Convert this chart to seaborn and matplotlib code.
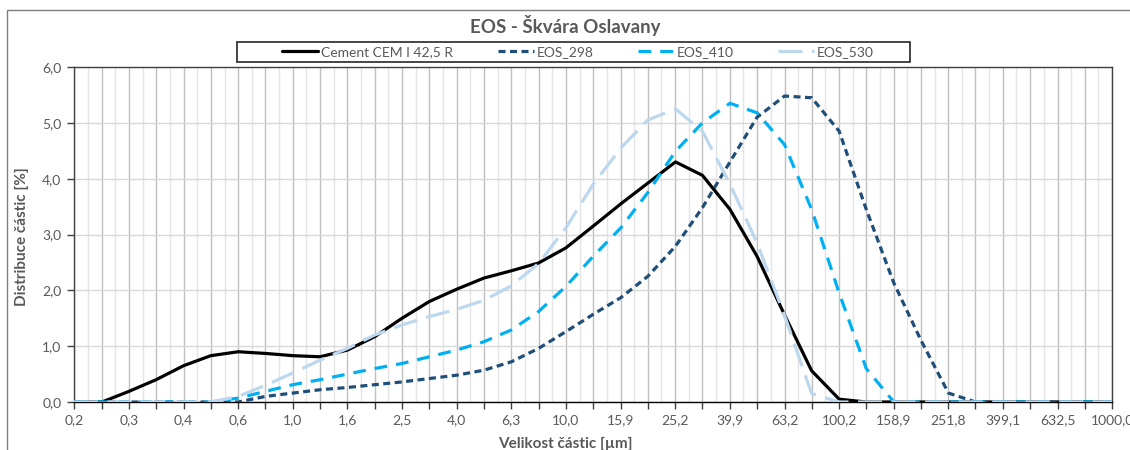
import numpy as np
import pandas as pd
import matplotlib.pyplot as plt
import seaborn as sns
from matplotlib.lines import Line2D
from matplotlib.patches import Rectangle

# velikost castic [um] - tridy (pulkroky na log ose)
sizes = [0.158, 0.200, 0.251, 0.316, 0.398, 0.501, 0.631, 0.794, 1.000, 1.259,
         1.585, 1.995, 2.512, 3.162, 3.981, 5.012, 6.310, 7.943, 10.00, 12.59,
         15.90, 19.95, 25.20, 31.62, 39.90, 50.12, 63.20, 79.43, 100.2, 125.9,
         158.9, 199.5, 251.8, 316.2, 399.1, 501.2, 632.5, 794.3, 1000.0]

cement = [0, 0, 0.19, 0.40, 0.65, 0.83, 0.90, 0.87, 0.83, 0.81,
          0.93, 1.17, 1.50, 1.80, 2.02, 2.22, 2.35, 2.49, 2.76, 3.15,
          3.55, 3.92, 4.30, 4.06, 3.45, 2.61, 1.56, 0.56, 0.05, 0,
          0, 0, 0, 0, 0, 0, 0, 0, 0]
eos_298 = [0, 0, 0, 0, 0, 0, 0, 0.10, 0.16, 0.22,
           0.26, 0.31, 0.36, 0.42, 0.48, 0.57, 0.72, 0.96, 1.26, 1.57,
           1.87, 2.25, 2.79, 3.48, 4.30, 5.10, 5.48, 5.45, 4.85, 3.45,
           2.13, 1.11, 0.16, 0, 0, 0, 0, 0, 0]
eos_410 = [0, 0, 0, 0, 0, 0, 0.07, 0.19, 0.31, 0.40,
           0.50, 0.60, 0.69, 0.81, 0.93, 1.08, 1.29, 1.62, 2.07, 2.61,
           3.12, 3.75, 4.49, 5.00, 5.35, 5.18, 4.61, 3.45, 1.95, 0.60,
           0, 0, 0, 0, 0, 0, 0, 0, 0]
eos_530 = [0, 0, 0, 0, 0, 0, 0.10, 0.30, 0.52, 0.75,
           0.96, 1.20, 1.38, 1.53, 1.66, 1.82, 2.08, 2.48, 3.12, 3.90,
           4.55, 5.05, 5.25, 4.85, 3.90, 2.85, 1.55, 0.15, 0, 0,
           0, 0, 0, 0, 0, 0, 0, 0, 0]

series_names = ['Cement CEM I 42,5 R', 'EOS_298', 'EOS_410', 'EOS_530']
colors = ['#000000', '#1F4E79', '#00B0F0', '#BDD7EE']

tick_labels = ['0,2', '0,3', '0,4', '0,6', '1,0', '1,6', '2,5', '4,0', '6,3', '10,0',
               '15,9', '25,2', '39,9', '63,2', '100,2', '158,9', '251,8', '399,1',
               '632,5', '1000,0']

df = pd.concat([
    pd.DataFrame({'size': sizes, 'value': vals, 'serie': name})
    for name, vals in zip(series_names, [cement, eos_298, eos_410, eos_530])
])

sns.set_theme(style='white')
plt.rcParams['font.family'] = ['Lato', 'DejaVu Sans']
grey = '#595959'

fig = plt.figure(figsize=(11.3, 4.5), dpi=100)
ax = fig.add_axes([74 / 1130, 1 - 402 / 450, (1112 - 74) / 1130, (402 - 67) / 450])

dashes = {
    'Cement CEM I 42,5 R': '',
    'EOS_298': (2.2, 1.4),
    'EOS_410': (4.0, 2.8),
    'EOS_530': (7.5, 3.0),
}
sns.lineplot(data=df, x='size', y='value', hue='serie', style='serie',
             palette=dict(zip(series_names, colors)), dashes=dashes,
             linewidth=2.3, legend=False, ax=ax, zorder=3)

ax.set_xscale('log')
ax.set_xlim(sizes[0], sizes[-1])
ax.set_ylim(0, 6)

# osa x - hlavni mrizka po pulkrocich, popisky po celych krocich
labels_full = []
for i in range(len(sizes)):
    labels_full.append(tick_labels[i // 2] if i % 2 == 0 else '')
ax.set_xticks(sizes)
ax.set_xticklabels(labels_full)
ax.set_xticks(np.logspace(-0.75, 2.95, 38), minor=True)
ax.xaxis.set_minor_formatter(plt.NullFormatter())

ax.set_yticks(range(7))
ax.set_yticklabels([f'{v},0' for v in range(7)])

ax.grid(True, which='major', axis='x', color='#BFBFBF', lw=1)
ax.grid(True, which='minor', axis='x', color='#E4E4E4', lw=1)
ax.grid(True, which='major', axis='y', color='#D9D9D9', lw=1)
ax.set_axisbelow(True)

ax.tick_params(axis='x', which='major', bottom=True, length=5, width=1,
               color='#404040', labelsize=10, labelcolor=grey, pad=4)
ax.tick_params(axis='x', which='minor', bottom=False, length=0)
ax.tick_params(axis='y', left=True, length=5, width=1, color='#404040',
               labelsize=10, labelcolor=grey, pad=4)

for s in ax.spines.values():
    s.set_color('#404040')
    s.set_linewidth(1)
ax.spines['bottom'].set_color('#000000')

ax.set_xlabel('')
ax.set_ylabel('')
fig.text(0.5, 1 - 444 / 450, 'Velikost částic [µm]', ha='center', va='center',
         fontsize=11, fontweight='bold', color=grey)
fig.text(22 / 1130, 1 - 237 / 450, 'Distribuce částic [%]', ha='center', va='center',
         rotation=90, fontsize=11, fontweight='bold', color=grey)
fig.text(0.5, 1 - 25 / 450, 'EOS - Škvára Oslavany', ha='center', va='center',
         fontsize=13.5, fontweight='bold', color=grey)

# legenda - ramecek kreslen zvlast
handles = [Line2D([], [], color=c, lw=2.3,
                  linestyle=(0, dashes[n]) if dashes[n] else '-')
           for n, c in zip(series_names, colors)]
leg = fig.legend(handles, series_names, ncol=4, loc='center',
                 bbox_to_anchor=(578 / 1130, 1 - 52 / 450), frameon=False,
                 fontsize=10, handlelength=2.6, handletextpad=0.2,
                 columnspacing=3.2, borderpad=0, borderaxespad=0)
for t in leg.get_texts():
    t.set_color(grey)
fig.patches.append(Rectangle((237 / 1130, 1 - 62 / 450), (910 - 237) / 1130, 20 / 450,
                             transform=fig.transFigure, fill=False,
                             edgecolor='#262626', lw=1.2))

# ramecek grafu
fig.patches.append(Rectangle((7 / 1130, -0.1), 1.2, 1.1 - 10 / 450,
                             transform=fig.transFigure, fill=False,
                             edgecolor='#7F7F7F', lw=1))

plt.savefig('out.png', dpi=100)
plt.close()
